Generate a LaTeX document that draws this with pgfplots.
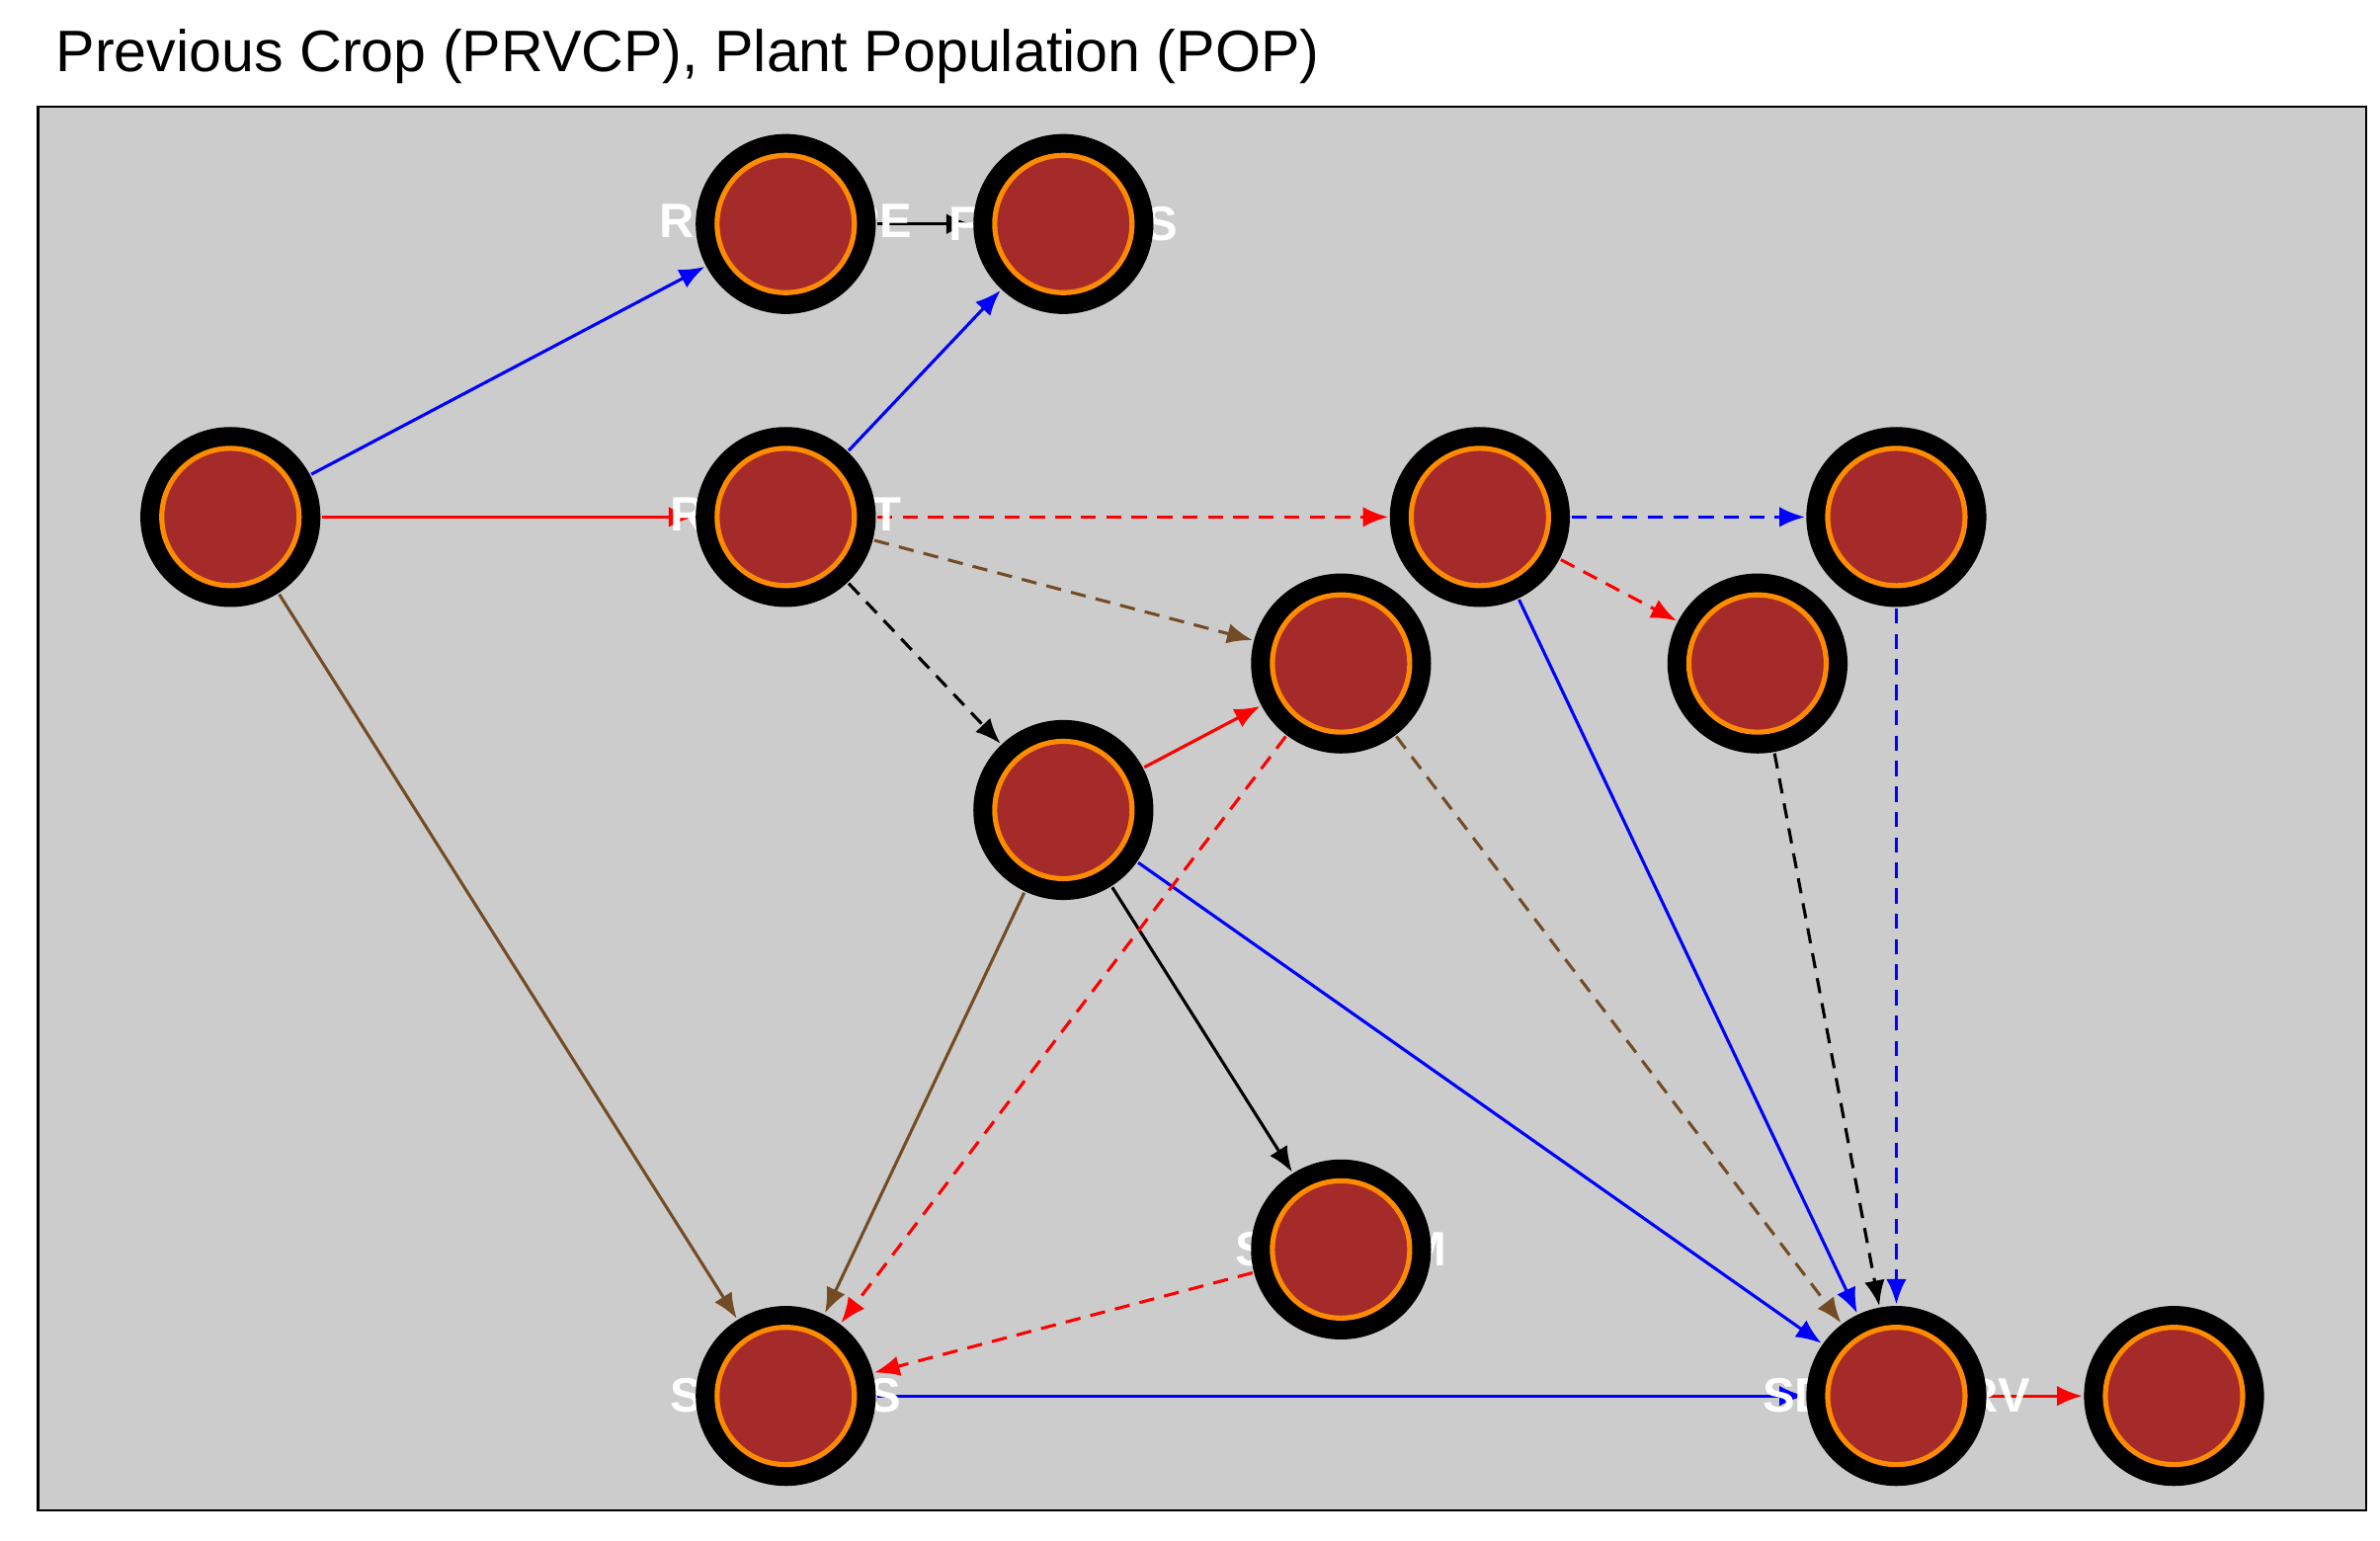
\documentclass[border=0pt]{standalone}
\usepackage{pgfplots}
\pgfplotsset{compat=1.18}
\usepackage{fontspec}
\setmainfont{Liberation Sans}
\usetikzlibrary{arrows.meta}
\definecolor{bg}{HTML}{CCCCCC}
\definecolor{nodered}{HTML}{A52A2A}
\definecolor{ring}{HTML}{FF8C00}
\begin{document}
\begin{tikzpicture}
\path[use as bounding box] (0,0) rectangle (468pt,-303pt);
\node[anchor=base west,font=\fontsize{11.5}{13}\selectfont] at (7.5pt,-14pt) {Previous Crop (PRVCP), Plant Population (POP)};
\begin{axis}[at={(7.5pt,-297pt)},anchor=south west,
 width=457.8pt,height=276pt,scale only axis,
 xmin=-1.385,xmax=15.385,ymin=-0.8,ymax=8.78,y dir=reverse,
 axis background/.style={fill=bg},axis line style={black,line width=0.5pt},
 ticks=none,clip=false,
 every axis plot/.append style={black,line width=0.6pt,-{Latex[length=5pt,width=4pt]},shorten <=18pt,shorten >=18pt}]
% edges
\addplot coordinates {(0,2) (4,0)};
\addplot coordinates {(0,2) (4,2)};
\addplot coordinates {(0,2) (4,8)};
\addplot coordinates {(4,0) (6,0)};
\addplot coordinates {(4,2) (6,0)};
\addplot coordinates {(4,2) (9,2)};
\addplot coordinates {(4,2) (8,3)};
\addplot coordinates {(4,2) (6,4)};
\addplot coordinates {(9,2) (12,2)};
\addplot coordinates {(9,2) (11,3)};
\addplot coordinates {(9,2) (12,8)};
\addplot coordinates {(6,4) (8,3)};
\addplot coordinates {(6,4) (4,8)};
\addplot coordinates {(6,4) (8,7)};
\addplot coordinates {(6,4) (12,8)};
\addplot coordinates {(8,3) (4,8)};
\addplot coordinates {(8,3) (12,8)};
\addplot coordinates {(11,3) (12,8)};
\addplot coordinates {(12,2) (12,8)};
\addplot coordinates {(8,7) (4,8)};
\addplot coordinates {(4,8) (12,8)};
\addplot coordinates {(12,8) (14,8)};
% nodes
\pgfplotstableread{
x y
0 2
4 0
6 0
4 2
9 2
12 2
8 3
11 3
6 4
8 7
4 8
12 8
14 8
}\nodes
\addplot[-,only marks,mark=*,mark size=17.4pt,mark options={fill=black,draw=black}] table {\nodes};
\addplot[-,only marks,mark=*,mark size=13.5pt,mark options={fill=nodered,draw=ring,line width=1pt}] table {\nodes};
\tikzset{lab/.style={text=white,font=\bfseries\fontsize{9.5}{11}\selectfont}}
\node[lab] at (axis cs:0,2) {PRVCP};
\node[lab] at (axis cs:4,0) {RES\_TYPE};
\node[lab] at (axis cs:6,0) {FDPRESS};
\node[lab] at (axis cs:4,2) {RES\_AMT};
\node[lab] at (axis cs:9,2) {PHYS};
\node[lab] at (axis cs:12,2) {RAIN};
\node[lab] at (axis cs:8,3) {SOILM};
\node[lab] at (axis cs:11,3) {EROS};
\node[lab] at (axis cs:6,4) {SOILT};
\node[lab] at (axis cs:8,7) {SPDGRM};
\node[lab] at (axis cs:4,8) {SDPRESS};
\node[lab] at (axis cs:12,8) {SDLGSURV};
\node[lab] at (axis cs:14,8) {POP};
\end{axis}
\end{tikzpicture}
\end{document}
